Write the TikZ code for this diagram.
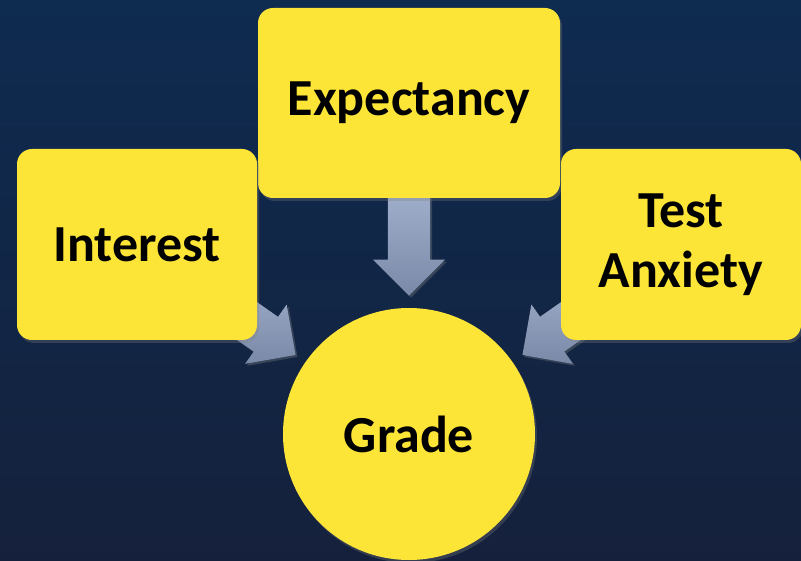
\documentclass[tikz,border=0pt]{standalone}
\usepackage{fontspec}
\setmainfont{Carlito}
\usetikzlibrary{shapes,shadows,calc,backgrounds}

\definecolor{slidetop}{RGB}{14,43,80}
\definecolor{slidebottom}{RGB}{21,33,60}
\definecolor{boxyellow}{RGB}{253,229,56}
\definecolor{arrowlight}{RGB}{158,173,201}
\definecolor{arrowdark}{RGB}{122,137,167}

\begin{document}
\begin{tikzpicture} [x=1pt, y=1pt,
				factor/.style={
				% The shape:
				rectangle,
				rounded corners=15pt,
				% The size:
      				minimum width=240pt,
				minimum height=191pt,
				% The filling:
				fill=boxyellow,
				drop shadow={opacity=0.3, shadow xshift=2pt, shadow yshift=-3pt},
				% Font
				font=\fontsize{52}{60}\selectfont\bfseries
    				},
				outcome/.style={
				% The shape:
				circle,
				% The size:
      				minimum size=252pt,
				inner sep=0pt,
				% The filling:
				fill=boxyellow,
				drop shadow={opacity=0.3, shadow xshift=2pt, shadow yshift=-3pt},
				% Font
				font=\fontsize{52}{60}\selectfont\bfseries
    				},
				link/.style={
				% The shape:
				single arrow,
				single arrow head extend=15pt,
				single arrow tip angle=90,
				% The size:
      				minimum height=99pt,
				inner xsep=0pt,
				inner ysep=21pt,
				% The filling:
				top color=arrowlight,
				bottom color=arrowdark,
				drop shadow={opacity=0.35, shadow xshift=2pt, shadow yshift=-2pt}
    				},
				]
    \tikzstyle{every node} = [align=center]
    \useasboundingbox (0,0) rectangle (801,560);
    \node [factor, minimum width=302pt, minimum height=190pt] (exp) at (409,457) {Expectancy};
    \node [factor] (int) at (137,315.5) {Interest};
    \node [factor] (anx) at (681,315.5) {Test\\Anxiety};
    \node [outcome] (grade) at (409,126) {Grade};
    \begin{scope}[on background layer]
    \shade [top color=slidetop, bottom color=slidebottom] (0,0) rectangle (801,560);
    \node [link, rotate=-90, anchor=tip] (expgrade) at ($(grade.center)!138pt!(exp.center)$) {};
    \node [link, rotate=-35, anchor=tip] (intgrade) at ($(grade.center)!138pt!(int.center)$) {};
    \node [link, rotate=-145, anchor=tip] (anxgrade) at ($(grade.center)!138pt!(anx.center)$) {};
    \end{scope}
\end{tikzpicture}
\end{document}
